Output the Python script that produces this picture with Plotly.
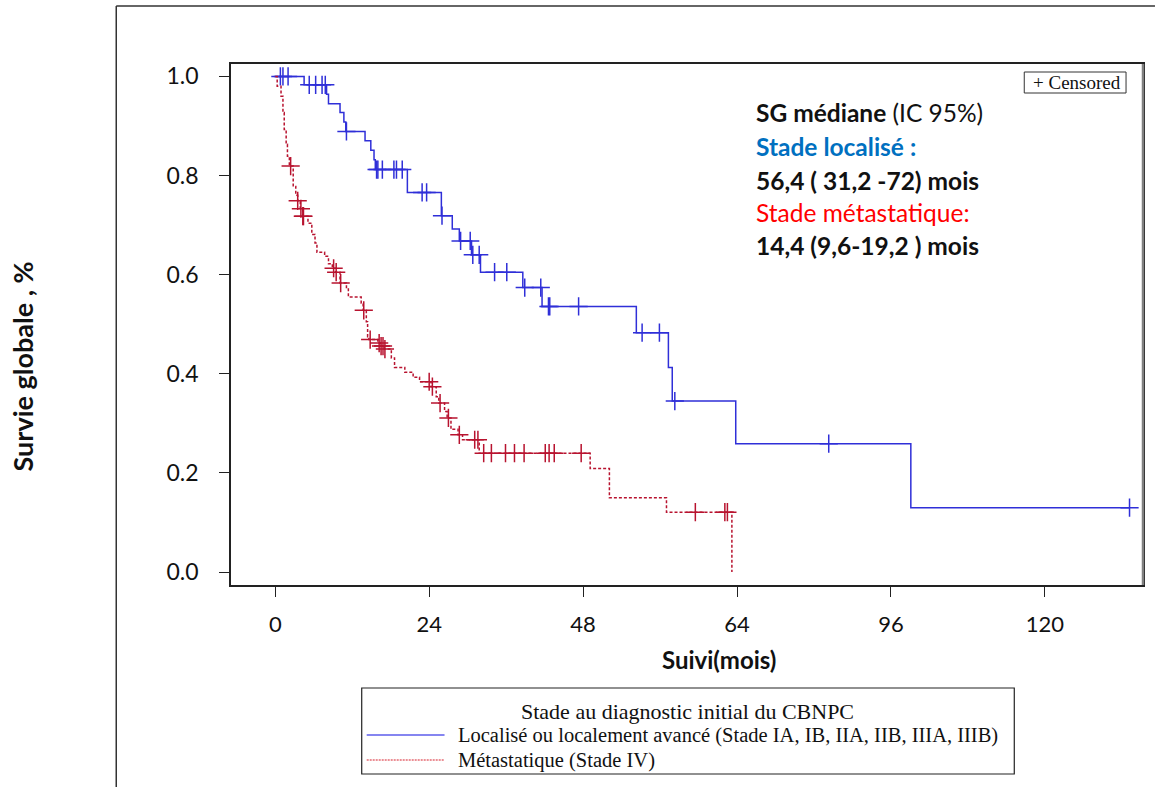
import numpy as np
import plotly.graph_objects as go

# Kaplan-Meier steps: time (months) at which survival changes, and survival after the step
loc_times = [0, 4.5, 8.0, 8.3, 10.1, 10.7, 11.0, 14.0, 14.9, 15.4, 15.6, 20.6, 25.9, 27.6,
             28.7, 30.6, 32.0, 38.6, 41.6, 56.3, 61.3, 61.9, 71.8, 99.1, 133.2]
loc_surv = [1.0, 0.983, 0.964, 0.945, 0.927, 0.908, 0.889, 0.870, 0.851, 0.832, 0.812, 0.766,
            0.719, 0.692, 0.668, 0.640, 0.605, 0.574, 0.536, 0.483, 0.413, 0.345, 0.259,
            0.130, 0.130]
loc_censored = [0.8, 1.2, 2.0, 5.3, 6.3, 7.3, 7.8, 11.1, 15.8, 16.0, 16.7, 18.5, 18.9, 19.8,
                22.9, 23.6, 26.0, 28.9, 30.4, 30.8, 31.8, 34.2, 36.1, 38.9, 41.4, 42.6, 42.8,
                47.3, 57.2, 59.9, 62.3, 86.3, 133.2]

met_times = [0, 0.3, 0.9, 1.2, 1.4, 1.7, 1.9, 2.2, 2.8, 3.2, 3.5, 3.9, 4.3, 5.1, 5.7, 6.2,
             6.5, 7.7, 8.3, 8.9, 9.4, 10.1, 11.1, 11.4, 13.4, 13.7, 14.2, 14.4, 14.6, 16.0,
             16.4, 17.0, 18.1, 18.6, 20.2, 21.5, 22.5, 24.3, 25.1, 25.5, 26.4, 26.8, 27.4,
             28.5, 29.2, 31.8, 49.1, 52.1, 61.0, 71.2]
met_surv = [1.0, 0.980, 0.960, 0.927, 0.893, 0.863, 0.839, 0.819, 0.778, 0.760, 0.749, 0.733,
            0.718, 0.704, 0.681, 0.664, 0.645, 0.637, 0.622, 0.613, 0.605, 0.583, 0.571,
            0.555, 0.543, 0.528, 0.505, 0.475, 0.469, 0.462, 0.456, 0.450, 0.432, 0.413,
            0.403, 0.393, 0.384, 0.374, 0.354, 0.341, 0.324, 0.311, 0.288, 0.277, 0.267,
            0.240, 0.209, 0.150, 0.121, 0.0]
met_censored = [2.4, 3.5, 4.0, 4.3, 4.4, 9.1, 9.5, 10.2, 13.8, 14.8, 16.2, 16.5, 16.8, 17.1,
                24.0, 24.5, 25.7, 27.0, 28.7, 31.1, 31.6, 32.5, 33.7, 35.9, 37.3, 38.8, 42.1,
                42.7, 43.5, 47.7, 65.5, 70.1, 70.5]

x_tickvals = [0, 24, 48, 72, 96, 120]
x_ticktext = ["0", "24", "48", "64", "96", "120"]
y_tickvals = [0.0, 0.2, 0.4, 0.6, 0.8, 1.0]
y_ticktext = ["0.0", "0.2", "0.4", "0.6", "0.8", "1.0"]

LOC_COLOR = "#2f2fd8"
MET_COLOR = "#b8132f"

W, H = 1157, 787
ML, MR, MT, MB = 231, 12, 64, 202
PW, PH = W - ML - MR, H - MT - MB


def px(x):
    return (x - ML) / PW


def py(y):
    return (H - MB - y) / PH


def step_value(times, surv, t):
    i = np.searchsorted(np.asarray(times), t, side="right") - 1
    return surv[max(i, 0)]


fig = go.Figure()

for times, surv, cens, color, dash in [
    (loc_times, loc_surv, loc_censored, LOC_COLOR, "solid"),
    (met_times, met_surv, met_censored, MET_COLOR, "3px,2px"),
]:
    fig.add_trace(go.Scatter(
        x=times, y=surv, mode="lines", line_shape="hv",
        line=dict(color=color, width=1.5, dash=dash),
        hoverinfo="skip", showlegend=False,
    ))
    fig.add_trace(go.Scatter(
        x=cens, y=[step_value(times, surv, c) for c in cens], mode="markers",
        marker=dict(symbol="cross-thin", size=13, line=dict(color=color, width=1.5)),
        hoverinfo="skip", showlegend=False,
    ))

axis_common = dict(showgrid=False, zeroline=False, showline=True, mirror=True,
                   linecolor="#222222", linewidth=1.5, ticks="outside", ticklen=10,
                   tickcolor="#222222", tickwidth=1,
                   tickfont=dict(family="Lato", size=22, color="#111111"))

fig.update_xaxes(range=[-6.9, 135.3], tickmode="array", tickvals=x_tickvals,
                 ticktext=x_ticktext, ticklabelstandoff=9, **axis_common)
fig.update_yaxes(range=[-0.026, 1.025], tickmode="array", tickvals=y_tickvals,
                 ticktext=y_ticktext, ticklabelstandoff=16,
                 **{**axis_common, "tickfont": dict(family="Lato", size=23, color="#111111")})

shapes = [
    # outer frame
    dict(type="line", xref="paper", yref="paper", x0=px(116), y0=py(H), x1=px(116), y1=py(6),
         line=dict(color="#333333", width=1.5)),
    dict(type="line", xref="paper", yref="paper", x0=px(116), y0=py(6), x1=px(W), y1=py(6),
         line=dict(color="#333333", width=1.5)),
    # grey right edge of the plotting area
    dict(type="line", xref="paper", yref="paper", x0=1, y0=0, x1=1, y1=1,
         line=dict(color="#808080", width=2.5)),
    # censored key box
    dict(type="rect", xref="paper", yref="paper", x0=px(1026), y0=py(93), x1=px(1128), y1=py(72),
         line=dict(color="#333333", width=1), fillcolor="white"),
    # group legend box and its line samples
    dict(type="rect", xref="paper", yref="paper", x0=px(362), y0=py(774), x1=px(1016), y1=py(688),
         line=dict(color="#222222", width=1.2), fillcolor="white"),
    dict(type="line", xref="paper", yref="paper", x0=px(367), y0=py(735), x1=px(445), y1=py(735),
         line=dict(color="#8585f0", width=2)),
    dict(type="line", xref="paper", yref="paper", x0=px(367), y0=py(760), x1=px(445), y1=py(760),
         line=dict(color="#d8202c", width=1.2, dash="2px,1px")),
]

serif = dict(family="Liberation Serif", color="#111111")
sans = "Lato"
annotations = [
    dict(text="+ Censored", x=px(1079), y=py(82.5), font=dict(size=19, **serif)),
    dict(text="Stade au diagnostic initial du CBNPC", x=px(689), y=py(712),
         font=dict(size=22, **serif)),
    dict(text="Localisé ou localement avancé (Stade IA, IB, IIA, IIB, IIIA, IIIB)",
         x=px(456), y=py(735), xanchor="left", font=dict(size=20.5, **serif)),
    dict(text="Métastatique (Stade IV)", x=px(456), y=py(760), xanchor="left",
         font=dict(size=20.5, **serif)),
    dict(text="<b>SG médiane</b> (IC 95%)", x=px(755), y=py(113), xanchor="left",
         font=dict(family=sans, size=24.5, color="#111111")),
    dict(text="<b>Stade localisé :</b>", x=px(755), y=py(146), xanchor="left",
         font=dict(family=sans, size=24.5, color="#0070C0")),
    dict(text="<b>56,4 ( 31,2 -72) mois</b>", x=px(755), y=py(180), xanchor="left",
         font=dict(family=sans, size=24.5, color="#111111")),
    dict(text="Stade métastatique:", x=px(755), y=py(212), xanchor="left",
         font=dict(family=sans, size=24.5, color="#FF0000")),
    dict(text="<b>14,4 (9,6-19,2 ) mois</b>", x=px(755), y=py(245), xanchor="left",
         font=dict(family=sans, size=24.5, color="#111111")),
    dict(text="<b>Suivi(mois)</b>", x=px(720), y=py(659),
         font=dict(family=sans, size=24, color="#111111")),
    dict(text="<b>Survie globale , %</b>", x=px(22), y=py(366), textangle=-90,
         font=dict(family=sans, size=27, color="#111111")),
]
for a in annotations:
    a.setdefault("xanchor", "center")
    a.update(xref="paper", yref="paper", yanchor="middle", showarrow=False)

fig.update_layout(
    width=W, height=H, margin=dict(l=ML, r=MR, t=MT, b=MB),
    paper_bgcolor="white", plot_bgcolor="white",
    shapes=shapes, annotations=annotations, showlegend=False,
)

fig.write_html("out.html")
